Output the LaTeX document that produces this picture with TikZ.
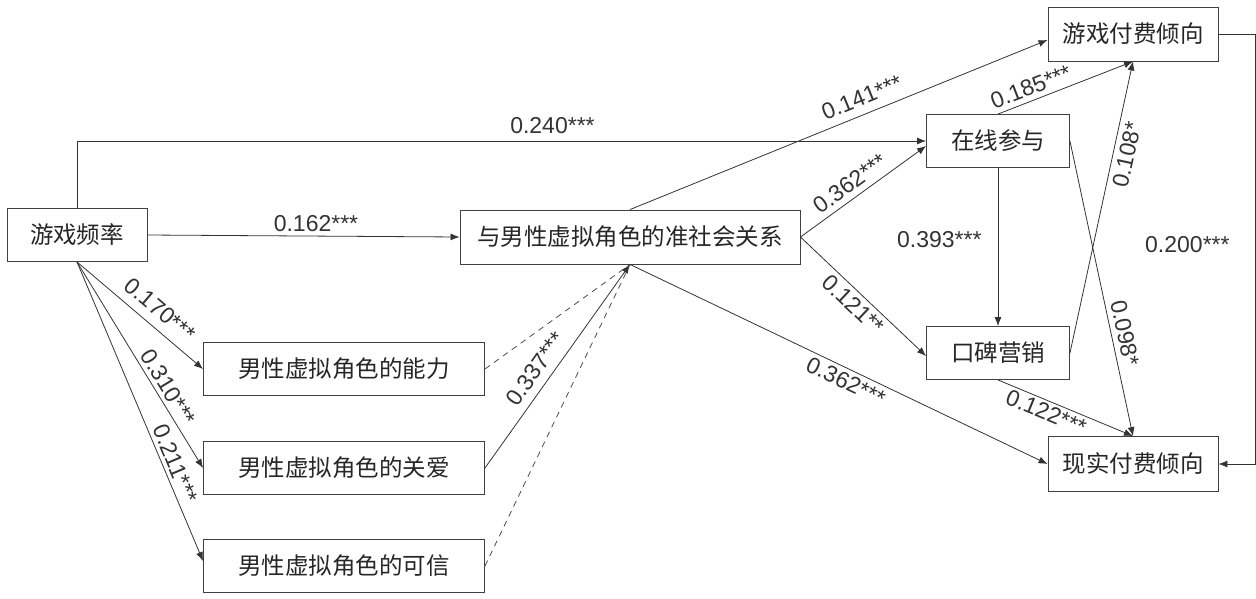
\documentclass[tikz,border=0pt]{standalone}
\usepackage{fontspec}
\setmainfont{Liberation Sans}
\newfontfamily\cjk{Noto Sans CJK SC}
\usetikzlibrary{arrows.meta, positioning}

\tikzset{
	varbox/.style={draw=black!75, line width=0.9pt, text=black!85, font=\cjk\fontsize{23.5}{28}\selectfont, inner sep=0pt, minimum height=53pt},
	coef/.style={text=black!80, font=\fontsize{23}{27}\selectfont, inner sep=3pt},
	link/.style={draw=black!80, line width=0.8pt, -{Latex[length=9pt,width=7pt]}},
	weak/.style={draw=black!70, line width=0.8pt, dashed, dash pattern=on 6pt off 5pt}
}

\begin{document}
\begin{tikzpicture}[x=1pt, y=-1pt]
\useasboundingbox (0,0) rectangle (1256,598);

% Draw boxes
\node[varbox, minimum width=140pt] (freq) at (77,235) {游戏频率};
\node[varbox, minimum width=340pt, minimum height=54pt] (rel) at (630,237) {与男性虚拟角色的准社会关系};
\node[varbox, minimum width=281pt] (abil) at (344,369) {男性虚拟角色的能力};
\node[varbox, minimum width=281pt] (care) at (344,468) {男性虚拟角色的关爱};
\node[varbox, minimum width=281pt] (trust) at (344,566) {男性虚拟角色的可信};
\node[varbox, minimum width=143pt] (online) at (998,141) {在线参与};
\node[varbox, minimum width=143pt] (wom) at (998,353) {口碑营销};
\node[varbox, minimum width=170pt, minimum height=54pt] (game) at (1133,34) {游戏付费倾向};
\node[varbox, minimum width=170pt, minimum height=55pt] (real) at (1133,464) {现实付费倾向};
\coordinate (rcorner) at (1255,34);

% Draw paths from frequency
\draw[link] (freq.north) |- (online.west) node[coef, pos=0.78, above=4pt]{0.240***};
\draw[link] (freq.east) -- (rel.west) node[coef, pos=0.54, above=1pt]{0.162***};
\draw[link] (freq.south) -- (abil.west) node[coef, sloped, above=6pt, pos=0.57]{0.170***};
\draw[link] (freq.south) -- (care.west) node[coef, sloped, above=1pt, pos=0.64]{0.310***};
\draw[link] (freq.south) -- ([yshift=5pt]trust.west) node[coef, sloped, above=1pt, pos=0.69]{0.211***};

% Draw character traits
\draw[weak] (abil.east) -- (rel.south);
\draw[link] (care.east) -- (rel.south) node[coef, sloped, above=5pt, pos=0.44]{0.337***};
\draw[weak] (trust.east) -- (rel.south);

% Draw mediators
\draw[link] (rel.north) -- ([yshift=-6pt]game.west) node[coef, sloped, above=5pt, pos=0.57]{0.141***};
\draw[link] (rel.east) -- ([yshift=-5pt]online.west) node[coef, sloped, above=3pt, pos=0.46]{0.362***};
\draw[link] (rel.east) -- ([yshift=-3pt]wom.west) node[coef, sloped, below=1pt, pos=0.49]{0.121**};
\draw[link] (rel.south) -- (real.west) node[coef, sloped, below=1pt, pos=0.53]{0.362***};
\draw[link] (online.south) -- (wom.north) node[coef, pos=0.45, left, xshift=-13pt]{0.393***};

% Draw outcomes
\draw[link] (online.north) -- (game.south) node[coef, sloped, above=2pt, pos=0.28]{0.185***};
\draw[link] (wom.east) -- (game.south) node[coef, sloped, below=2pt, pos=0.69]{0.108*};
\draw[link] (online.east) -- (real.north) node[coef, sloped, above=2pt, pos=0.66]{0.098*};
\draw[link] (wom.south) -- (real.north) node[coef, sloped, below=0pt, pos=0.39]{0.122***};
\draw[link] (game.east) -- (rcorner) |- (real.east) node[coef, pos=0.25, left, xshift=-22pt, yshift=4pt]{0.200***};
\end{tikzpicture}
\end{document}
